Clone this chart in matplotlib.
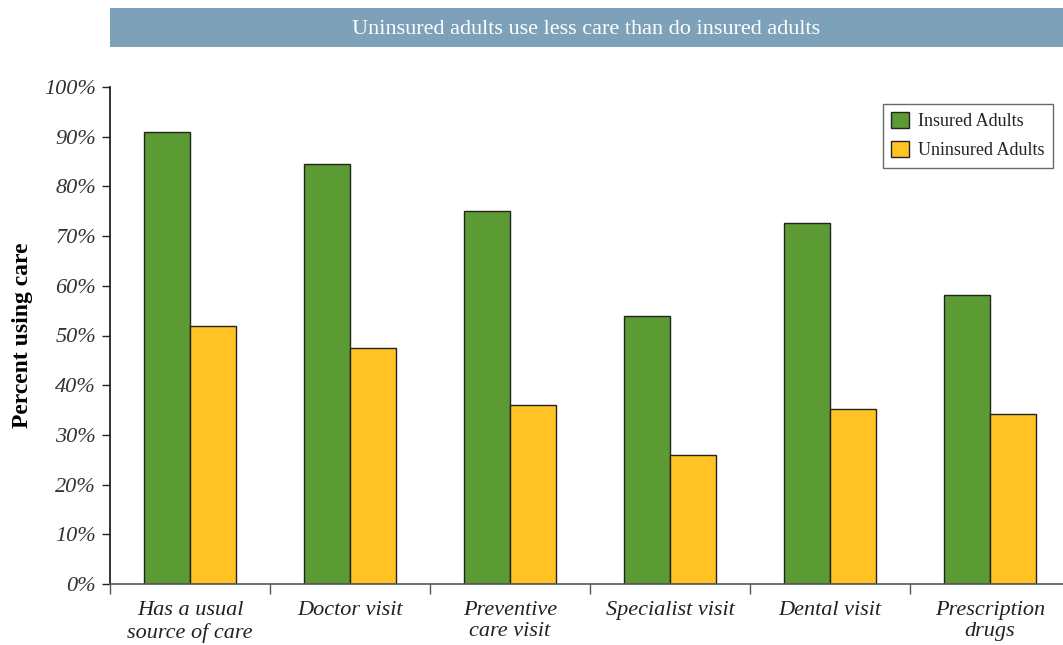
import matplotlib
matplotlib.use("Agg")
import matplotlib.pyplot as plt
from matplotlib.patches import Rectangle
from matplotlib.ticker import FixedLocator, NullFormatter
import numpy as np

categories = ["Has a usual\nsource of care", "Doctor visit", "Preventive\ncare visit",
              "Specialist visit", "Dental visit", "Prescription\ndrugs"]
insured = [91, 84.5, 75, 54, 72.6, 58.2]
uninsured = [52, 47.4, 36, 26, 35.3, 34.3]
yticks = [0, 10, 20, 30, 40, 50, 60, 70, 80, 90, 100]
title = "Uninsured adults use less care than do insured adults"

plt.rcParams['font.family'] = ['Liberation Serif', 'DejaVu Serif']

W, H = 1063, 645
fig = plt.figure(figsize=(W/100, H/100), dpi=100)
ax = fig.add_axes([110/W, 1-584/H, (W-110)/W, (584-87)/H])

x = np.arange(len(categories))
bw = 0.2875
green = "#5C9A33"
yellow = "#FFC325"
ax.bar(x - bw/2, insured, width=bw, color=green, edgecolor="#222222", linewidth=1.0, label="Insured Adults")
ax.bar(x + bw/2, uninsured, width=bw, color=yellow, edgecolor="#222222", linewidth=1.0, label="Uninsured Adults")

ax.set_ylim(0, 100)
ax.set_xlim(-0.5, (W - 110) / 160 - 0.5)
ax.set_yticks(yticks)
ax.set_yticklabels([f"{v}%" for v in yticks], fontsize=16, style='italic', color="#333333")
ax.xaxis.set_major_locator(FixedLocator(np.arange(-0.5, len(categories), 1.0)))
ax.xaxis.set_major_formatter(NullFormatter())
ax.set_xticks(x, minor=True)
ax.set_xticklabels(categories, minor=True, fontsize=16, style='italic', color="#222222", linespacing=1.2)
ax.tick_params(axis='x', which='minor', length=0, pad=12)
ax.tick_params(axis='x', which='major', length=7, width=1, color="#555555", direction='out')
ax.tick_params(axis='y', length=6, width=1, color="#222222", direction='out', pad=4)

for s in ['top', 'right']:
    ax.spines[s].set_visible(False)
ax.spines['left'].set_color("#222222")
ax.spines['left'].set_linewidth(1.3)
ax.spines['bottom'].set_color("#555555")
ax.spines['bottom'].set_linewidth(1.2)

ax.set_ylabel("Percent using care", fontsize=17, fontweight='bold', labelpad=8)

leg = ax.legend(loc='upper right', bbox_to_anchor=((1053-110)/(W-110), (584-104)/(584-87)),
                borderaxespad=0.0,
                fontsize=13, frameon=True, fancybox=False, edgecolor="#444444",
                handlelength=1.0, handleheight=1.0, handletextpad=0.5, borderpad=0.45,
                labelspacing=0.6)
leg.get_frame().set_linewidth(1.0)
for t in leg.get_texts():
    t.set_color("#222222")

fig.patches.append(Rectangle((110/W, 1-47/H), (W-110)/W, 39/H, transform=fig.transFigure,
                             facecolor="#7CA1B9", edgecolor='none', zorder=0))
fig.text((110 + W)/2/W, 1-30/H, title, color="white", fontsize=16, ha='center', va='center')

fig.savefig("out.png", dpi=100)
